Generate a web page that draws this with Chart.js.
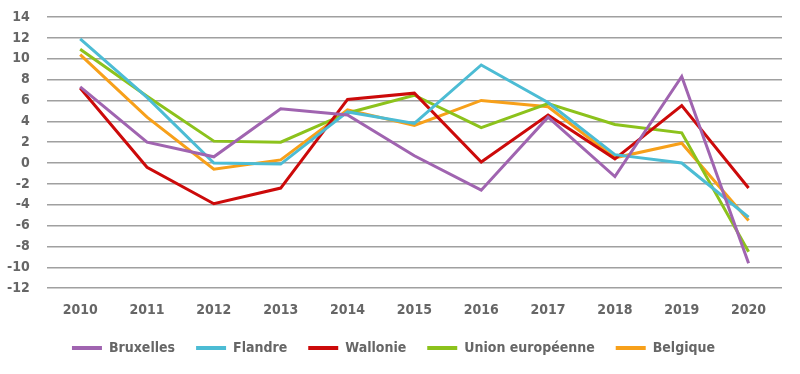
<!DOCTYPE html>
<html>
<head>
<meta charset="utf-8">
<script src="https://cdn.jsdelivr.net/npm/chart.js@4"></script>
<style>
    html, body { margin: 0; padding: 0; background: #ffffff; }
    #wrap { width: 800px; height: 374px; position: relative; }
</style>
</head>
<body>
<div id="wrap"><canvas id="graphique"></canvas></div>
<script>
const annees = ['2010', '2011', '2012', '2013', '2014', '2015', '2016', '2017', '2018', '2019', '2020'];

const bruxelles = [7.3, 2.0, 0.6, 5.2, 4.6, 0.7, -2.6, 4.4, -1.3, 8.3, -9.6];
const flandre = [11.9, 6.3, 0.0, -0.1, 4.9, 3.8, 9.4, 5.8, 0.8, 0.0, -5.2];
const wallonie = [7.2, -0.4, -3.9, -2.4, 6.1, 6.7, 0.1, 4.6, 0.4, 5.5, -2.4];
const unionEuropeenne = [10.9, 6.4, 2.1, 2.0, 4.8, 6.5, 3.4, 5.7, 3.7, 2.9, -8.5];
const belgique = [10.4, 4.4, -0.6, 0.3, 5.1, 3.6, 6.0, 5.4, 0.5, 1.9, -5.5];

const police = { family: "'Liberation Sans Narrow', 'DejaVu Sans Condensed', sans-serif", size: 14, weight: 'bold' };

function serie(label, valeurs, couleur) {
    return {
        label: label,
        data: valeurs,
        borderColor: couleur,
        backgroundColor: couleur,
        borderWidth: 3,
        pointRadius: 0,
        tension: 0,
        fill: false
    };
}

new Chart(document.getElementById('graphique'), {
    type: 'line',
    data: {
        labels: annees,
        datasets: [
            serie('Bruxelles', bruxelles, '#a064b0'),
            serie('Flandre', flandre, '#4cbcd4'),
            serie('Wallonie', wallonie, '#cc0a0a'),
            serie('Union européenne', unionEuropeenne, '#8cc21c'),
            serie('Belgique', belgique, '#f7a01a')
        ]
    },
    options: {
        responsive: true,
        maintainAspectRatio: false,
        animation: false,
        layout: { padding: { left: 5, right: 18, top: 17, bottom: 9 } },
        plugins: {
            tooltip: { enabled: false },
            legend: {
                position: 'bottom',
                labels: {
                    font: police,
                    color: '#666666',
                    boxWidth: 30,
                    boxHeight: 4,
                    padding: 21,
                    generateLabels: function (chart) {
                        return chart.data.datasets.map(function (ds, i) {
                            return {
                                text: ds.label,
                                fillStyle: ds.borderColor,
                                strokeStyle: ds.borderColor,
                                lineWidth: 0,
                                fontColor: '#666666',
                                datasetIndex: i
                            };
                        });
                    }
                }
            }
        },
        scales: {
            x: {
                offset: true,
                grid: { display: false, tickLength: 13 },
                border: { display: false },
                ticks: { font: police, color: '#666666', padding: 1, maxRotation: 0 }
            },
            y: {
                min: -12,
                max: 14,
                grid: { color: '#a0a0a0', lineWidth: 1.5, drawTicks: true, tickLength: 15, tickColor: 'rgba(0,0,0,0)' },
                border: { display: false },
                ticks: { stepSize: 2, autoSkip: false, font: police, color: '#666666', padding: 2 }
            }
        }
    }
});
</script>
</body>
</html>
